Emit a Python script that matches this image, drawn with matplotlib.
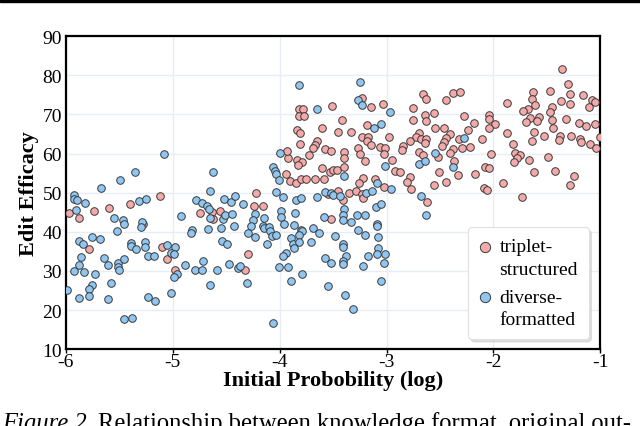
import numpy as np
import matplotlib
matplotlib.use('Agg')
import matplotlib.pyplot as plt
from matplotlib.patches import Rectangle

# triplet-structured (pink)
tri_x = [-5.12, -5.40, -5.60, -5.74, -5.97, -5.88, -5.28, -5.78, -5.10, -5.05, -4.98, -4.75,
         -4.63, -4.56, -4.62, -4.22, -4.24, -4.16, -4.30, -4.32,
         -3.92, -3.84, -3.79, -3.83, -3.73, -3.94, -3.90, -3.85, -3.80, -3.75, -3.67, -3.59,
         -3.60, -3.53, -3.55, -3.52,
         -3.23, -3.15, -3.03, -3.18, -3.82, -3.78, -3.82, -3.77, -3.51, -3.42, -3.84, -3.81,
         -3.60, -3.45, -3.33, -3.23, -3.17, -3.18, -3.15, -2.98, -3.81, -3.65, -3.67, -3.69,
         -3.58, -3.52, -3.40, -3.27, -3.25, -3.06, -3.01, -3.02, -3.93,
         -3.40, -3.20, -3.50, -3.46, -3.40, -3.22, -3.26, -3.11, -3.02, -2.95, -2.92, -3.45,
         -3.41, -3.35, -3.29, -3.23, -3.22, -2.62,
         -2.66, -2.63, -2.38, -2.31, -2.44, -2.75, -2.64, -2.56, -2.75, -2.63, -2.55, -2.46,
         -2.28, -2.18, -2.24, -2.04, -2.04, -1.99, -2.04, -2.70, -2.72, -2.78, -2.68, -2.63,
         -2.64, -2.85, -2.86, -2.41, -2.44, -2.46, -2.48, -2.32, -2.29, -2.22, -2.11, -2.38,
         -2.41, -2.37, -2.52, -2.70, -2.66, -2.51, -2.33, -2.17, -2.08, -2.04, -2.02, -2.78,
         -2.81, -2.77, -2.56, -2.44, -2.09, -2.06, -2.875,
         -1.36, -1.30, -1.63, -1.64, -1.47, -1.28, -1.16, -1.08, -1.05, -1.11, -1.37, -1.28,
         -1.87, -1.61, -1.68, -1.72, -1.45, -1.47, -1.66, -1.57, -1.59, -1.70, -1.45, -1.32,
         -1.20, -1.13, -1.05, -1.44, -1.62, -1.87, -1.53, -1.38, -1.39, -1.27, -1.64, -1.19,
         -1.18, -1.10, -1.04, -1.00, -1.82, -1.80, -1.75, -1.78, -1.81, -1.67, -1.49, -1.62,
         -1.42, -1.25, -1.28, -1.91, -1.73]
tri_y = [49.2, 47.0, 46.1, 45.3, 44.8, 43.6, 42.1, 35.7, 36.0, 33.0, 30.3, 44.8,
         45.0, 45.4, 43.3, 50.0, 46.6, 46.6, 34.2, 30.3,
         58.9, 58.4, 57.9, 57.0, 59.7, 54.7, 53.0, 52.5, 53.5, 53.5, 53.4, 53.5,
         56.2, 55.3, 49.6, 43.3,
         74.1, 71.9, 72.7, 67.4, 71.3, 71.5, 69.7, 69.6, 72.1, 68.6, 66.1, 65.3,
         66.4, 65.4, 65.4, 64.2, 64.1, 63.2, 62.3, 64.2, 62.5, 63.3, 62.2, 61.5,
         61.1, 60.7, 60.5, 61.4, 59.8, 61.7, 61.5, 59.9, 60.7,
         58.9, 58.1, 55.8, 55.8, 56.6, 53.8, 52.5, 53.5, 51.5, 58.3, 55.6, 50.3,
         48.1, 50.0, 50.4, 49.6, 48.7, 47.7,
         75.2, 73.9, 75.5, 75.6, 73.7, 71.7, 69.8, 70.4, 68.5, 68.2, 66.6, 66.4,
         69.5, 67.8, 66.1, 69.9, 68.8, 67.5, 66.4, 65.2, 64.2, 63.1, 63.6, 63.7,
         62.7, 61.9, 61.0, 65.0, 63.9, 62.9, 62.0, 63.7, 61.4, 61.7, 63.6, 61.2,
         60.1, 58.2, 59.0, 60.5, 59.5, 55.3, 54.4, 54.7, 56.5, 56.3, 59.8, 54.1,
         52.7, 51.0, 52.0, 52.8, 51.2, 50.6, 55.3,
         81.7, 77.8, 75.6, 73.9, 76.1, 75.3, 74.9, 73.6, 73.1, 71.8, 73.3, 72.6,
         72.8, 72.4, 71.4, 70.8, 71.8, 70.5, 69.2, 69.4, 68.4, 68.0, 68.5, 68.9,
         67.9, 67.1, 67.5, 66.4, 65.5, 65.3, 64.4, 64.4, 63.5, 64.4, 63.2, 63.7,
         62.9, 62.5, 61.5, 64.2, 62.4, 60.2, 59.7, 58.9, 57.8, 58.3, 59.2, 55.3,
         55.5, 54.2, 52.0, 52.5, 48.9]

# diverse-formatted (blue)
div_x = [-5.08, -5.35, -5.49, -5.67, -5.92, -5.92, -5.90, -5.82, -5.91, -5.32, -5.25, -5.55,
         -5.47, -5.46, -5.29, -5.30, -5.52, -5.76, -5.68, -5.88, -5.84, -5.39, -5.39, -5.34,
         -5.26, -5.26, -5.05, -4.98, -5.02, -4.99, -5.23, -5.18, -5.86, -5.64, -5.88, -5.61,
         -5.51, -5.51, -5.46, -5.50, -5.92, -5.83, -5.73, -4.96, -4.99, -4.89, -4.79, -5.58,
         -5.76, -5.78, -5.99, -5.78, -5.88, -5.61, -5.23, -5.17, -5.02, -5.46, -5.38, -4.92,
         -4.82, -4.83, -4.78,
         -4.62, -4.65, -4.73, -4.68, -4.66, -4.65, -4.53, -4.51, -4.45, -4.52, -4.46, -4.42,
         -4.34, -4.23, -4.15, -4.25, -4.27, -4.30, -4.23, -4.16, -4.15, -4.10, -4.09, -4.07,
         -4.03, -4.12, -4.43, -4.55, -4.67, -4.54, -4.49, -4.47, -4.39, -4.37, -4.59, -4.72,
         -4.73, -4.65, -4.31, -4.06,
         -4.00, -4.06, -4.04, -4.03, -4.01, -4.03, -3.97, -3.85, -3.80, -3.65, -3.58, -3.99,
         -3.99, -3.96, -3.86, -3.87, -3.80, -3.79, -3.82, -3.69, -3.63, -3.59, -3.89, -3.88,
         -3.82, -3.87, -3.71, -3.94, -3.97, -4.01, -3.92, -3.79, -3.89, -3.58, -3.52, -3.55,
         -3.82, -3.25, -3.65, -3.27, -3.23, -2.97, -3.05, -3.12,
         -3.40, -3.09, -2.96, -3.01, -3.52, -3.50, -3.44, -3.19, -3.14, -3.10, -3.05, -3.40,
         -3.41, -3.41, -3.33, -3.28, -3.20, -3.09, -3.09, -3.27, -3.20, -3.08, -3.48, -3.41,
         -3.41, -3.38, -3.08, -3.01, -3.09, -3.17, -3.41, -3.41, -3.22, -3.02, -3.05, -3.39,
         -3.31, -2.63, -2.68,
         -2.28, -2.55, -2.70, -2.64, -2.38]
div_y = [60.0, 55.3, 53.2, 51.1, 49.4, 48.4, 48.1, 47.4, 45.6, 47.9, 48.4, 43.6,
         42.9, 42.0, 42.5, 41.1, 40.1, 38.6, 38.1, 37.7, 37.0, 37.1, 36.3, 35.7,
         37.4, 36.2, 36.5, 36.2, 34.6, 34.2, 33.7, 33.7, 33.5, 33.3, 31.4, 31.4,
         31.9, 30.9, 33.1, 30.3, 30.1, 29.6, 29.2, 29.1, 28.5, 31.4, 30.3, 27.0,
         26.3, 25.3, 25.1, 23.5, 23.0, 22.9, 23.3, 22.4, 24.3, 17.8, 18.0, 44.0,
         40.5, 39.8, 48.1,
         55.3, 50.4, 47.3, 46.6, 45.8, 43.5, 43.3, 44.3, 44.6, 48.3, 47.7, 49.2,
         47.0, 44.6, 43.6, 43.0, 41.5, 39.8, 38.6, 41.5, 41.0, 41.2, 40.2, 39.0,
         39.1, 36.9, 41.5, 40.9, 40.6, 37.6, 36.9, 31.8, 30.8, 31.2, 30.2, 32.6,
         30.3, 26.4, 26.8, 16.7,
         60.2, 56.6, 55.6, 54.8, 53.3, 50.2, 48.9, 48.0, 48.6, 48.8, 50.1, 45.4,
         43.8, 42.1, 44.7, 41.8, 40.5, 40.2, 39.2, 41.0, 39.6, 43.8, 38.4, 36.9,
         37.4, 35.8, 37.4, 34.6, 33.8, 31.1, 31.1, 29.1, 27.5, 33.4, 32.1, 26.1,
         77.6, 78.4, 71.5, 73.6, 72.3, 70.5, 67.5, 66.5,
         54.3, 52.5, 50.9, 56.9, 49.8, 49.4, 49.2, 50.0, 50.3, 46.4, 47.1, 45.8,
         44.3, 42.9, 42.6, 44.2, 44.2, 42.0, 41.5, 40.5, 39.2, 38.6, 38.8, 36.9,
         36.0, 33.7, 35.8, 34.2, 34.2, 33.7, 32.6, 31.8, 31.2, 31.9, 27.5, 23.9,
         20.2, 44.4, 49.2,
         63.9, 60.2, 57.4, 58.0, 56.5]

x_ticks = [-6, -5, -4, -3, -2, -1]
y_ticks = [10, 20, 30, 40, 50, 60, 70, 80, 90]

plt.rcParams['font.family'] = 'Liberation Serif'

fig = plt.figure(figsize=(6.4, 4.27), dpi=100)
ax = fig.add_axes([0.103, 0.180, 0.835, 0.733])

pink = '#f6a9a9'
blue = '#8fc6f2'
ec = '#3a3a3a'

ax.scatter(tri_x, tri_y, s=30, c=pink, edgecolors=ec, linewidths=0.7,
           label='triplet-\nstructured', zorder=3)
ax.scatter(div_x, div_y, s=30, c=blue, edgecolors=ec, linewidths=0.7,
           label='diverse-\nformatted', zorder=3)

ax.set_xlim(-6, -1)
ax.set_ylim(10, 90)
ax.set_xticks(x_ticks)
ax.set_yticks(y_ticks)
ax.set_xticklabels([str(t) for t in x_ticks])
ax.grid(True, color='#e6edf6', lw=1.0, zorder=0)
ax.set_axisbelow(True)
for s in ax.spines.values():
    s.set_linewidth(1.6)
    s.set_color('black')
ax.tick_params(axis='x', length=3, width=1, labelsize=14, pad=0)
ax.tick_params(axis='y', length=0, labelsize=14, pad=3)

ax.set_xlabel('Initial Probobility (log)', fontsize=16, fontweight='bold', labelpad=0)
ax.set_ylabel('Edit Efficacy', fontsize=16, fontweight='bold', labelpad=2)

leg = ax.legend(loc='lower right', bbox_to_anchor=(0.978, 0.032), fontsize=14,
                markerscale=1.35, frameon=True, fancybox=True,
                shadow={'color': '#c8c8c8', 'alpha': 0.6},
                handletextpad=0.45, borderpad=0.55, labelspacing=0.55,
                handlelength=0.6, borderaxespad=0)
leg.get_frame().set_edgecolor('#e0e0e0')
leg.get_frame().set_linewidth(0.8)
for t in leg.get_texts():
    t.set_linespacing(1.45)
# put the marker beside the first line of each two-line label
for h in leg.legend_handles:
    h.set_offsets(h.get_offsets() + np.array([0, 9]))

# top rule and caption
fig.patches.append(Rectangle((0, 0.993), 1, 0.007, transform=fig.transFigure,
                             color='black', zorder=5))
t1 = fig.text(0.003, -0.006, 'Figure 2.', fontsize=17.7, style='italic', va='baseline')
fig.canvas.draw()
bb = t1.get_window_extent()
x2 = (bb.x1 + 5) / fig.bbox.width
fig.text(x2, -0.006, 'Relationship between knowledge format, original out-',
         fontsize=17.7, va='baseline')

fig.savefig('out.png', dpi=100)
